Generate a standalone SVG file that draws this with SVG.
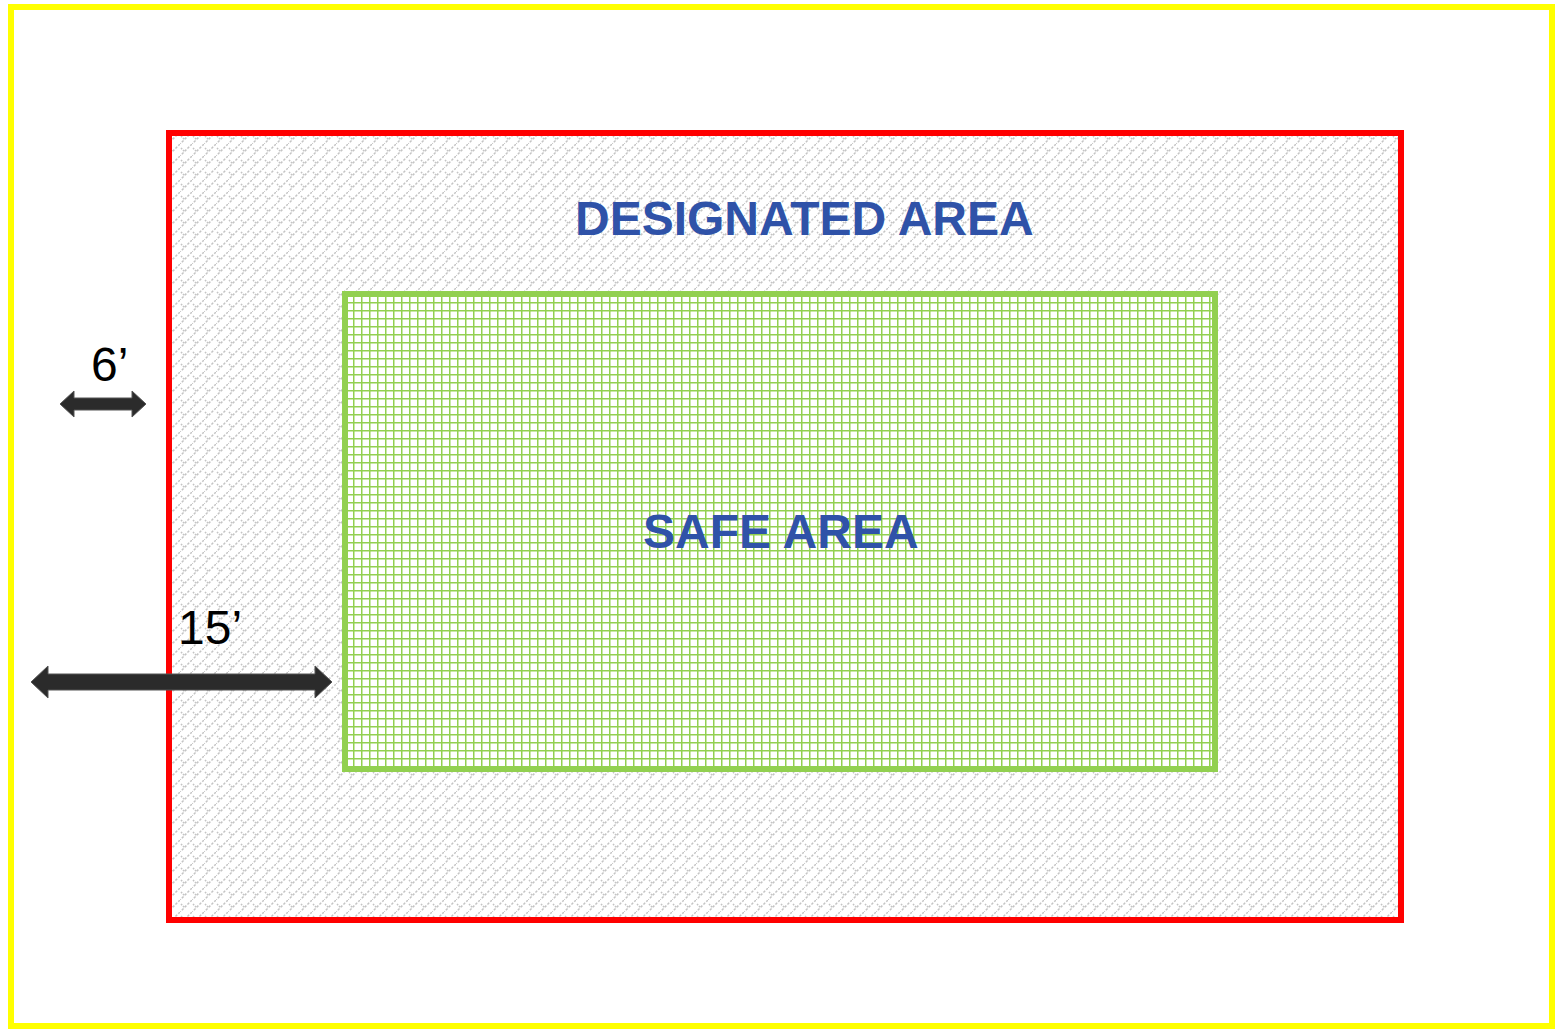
<svg xmlns="http://www.w3.org/2000/svg" width="1559" height="1029" viewBox="0 0 1559 1029">
<style>
.lbl{font-family:"Liberation Sans",Arial,sans-serif;font-weight:bold;fill:#2F52A8;font-size:48px}
.dim{font-family:"Liberation Sans",Arial,sans-serif;fill:#000;font-size:48px}
.arrow{fill:#2b2b2b;stroke:#555;stroke-width:1}
</style>
<defs>
<pattern id="hatch" patternUnits="userSpaceOnUse" width="12" height="12">
<rect width="12" height="12" fill="#fff"/>
<path d="M-1,13 L13,-1" stroke="#c4c4c4" stroke-width="1.5" stroke-dasharray="2.4 1.6"/>
<path d="M1,4 L5,8" stroke="#c4c4c4" stroke-width="1.5" stroke-dasharray="1.6 1.2"/>
</pattern>
<pattern id="grid" patternUnits="userSpaceOnUse" x="345" y="294" width="8" height="8">
<rect width="8" height="8" fill="#fff"/>
<path d="M0,0 H8 M0,0 V8" stroke="#92D050" stroke-width="3" fill="none"/>
</pattern>
</defs>
<rect id="page" x="11" y="7" width="1541" height="1019" fill="#fff" stroke="#FFFF00" stroke-width="6"/>
<g id="designated">
<rect x="169" y="133" width="1232" height="787" fill="url(#hatch)" stroke="#FF0000" stroke-width="6"/>
<text class="lbl" x="575" y="235">DESIGNATED AREA</text>
</g>
<g id="safe">
<rect x="345" y="294" width="870" height="475" fill="url(#grid)" stroke="#92D050" stroke-width="6"/>
<text class="lbl" x="643" y="548">SAFE AREA</text>
</g>
<g id="connectors">
<polygon class="arrow" points="60,404 74,391 74,398 132,398 132,391 146,404 132,417 132,410 74,410 74,417"/>
<polygon class="arrow" points="31,682 48,666 48,674 315,674 315,666 332,682 315,698 315,690 48,690 48,698"/>
</g>
<g id="labels">
<text class="dim" x="91" y="381">6’</text>
<text class="dim" x="178" y="644">15’</text>
</g>
</svg>
